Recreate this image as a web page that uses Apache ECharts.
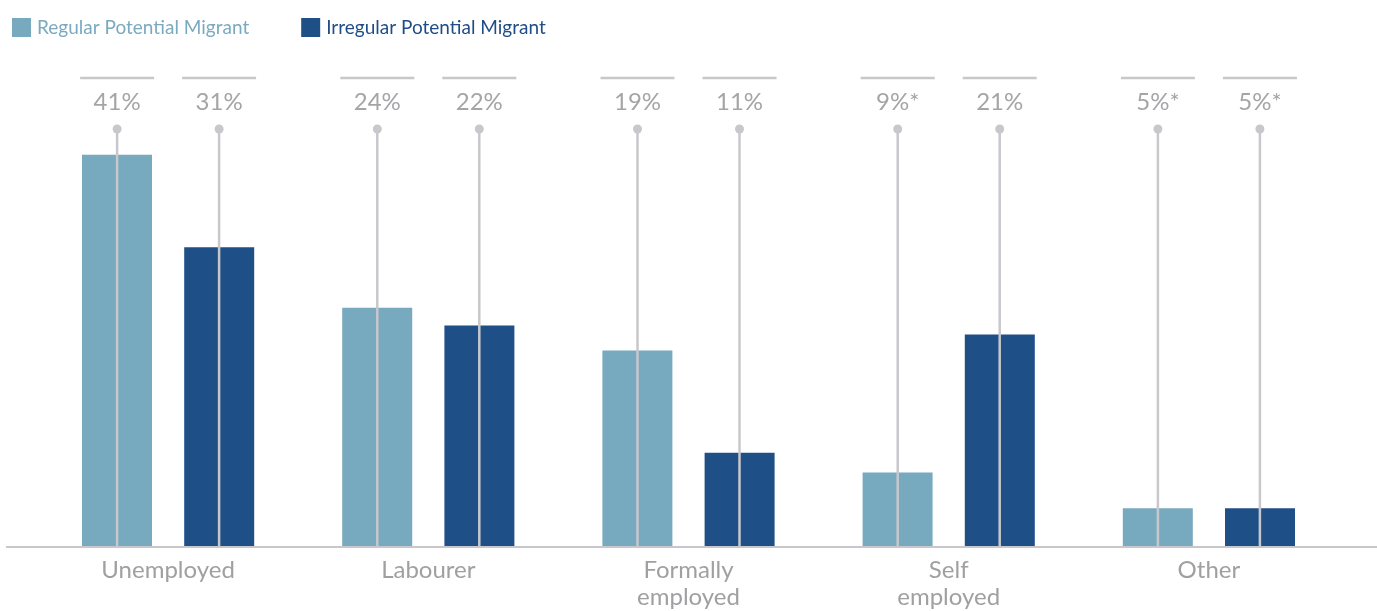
<!DOCTYPE html>
<html>
<head>
<meta charset="utf-8">
<script src="https://cdn.jsdelivr.net/npm/echarts@6/dist/echarts.min.js"></script>
<style>
  html, body { margin: 0; padding: 0; background: #fff; }
  #chart { width: 1377px; height: 611px; }
</style>
</head>
<body>
<div id="chart"></div>
<script>
// categories along the x axis
const categories = ['Unemployed', 'Labourer', 'Formally\nemployed', 'Self\nemployed', 'Other']
// bar heights as drawn in the picture
const regularValues = [39.4, 24.0, 19.7, 7.4, 3.8]
const irregularValues = [30.1, 22.2, 9.4, 21.3, 3.8]
// printed labels above each bar
const regularLabels = ['41%', '24%', '19%', '9%*', '5%*']
const irregularLabels = ['31%', '22%', '11%', '21%', '5%*']
// top of the value scale (where the pins end)
const yMax = 42

const GREY = '#c8c8cc'
const FONT = 'Lato'

// pin with dot, label and a short rule above it
function pin (labels, offset) {
  return function (params, api) {
    const i = api.value(0)
    const base = api.coord([i, 0])
    const top = api.coord([i, api.value(1)])
    const x = base[0] + offset
    return {
      type: 'group',
      children: [
        { type: 'line', shape: { x1: x, y1: top[1], x2: x, y2: base[1] }, style: { stroke: GREY, lineWidth: 2.5 } },
        { type: 'circle', shape: { cx: x, cy: top[1], r: 4.5 }, style: { fill: GREY } },
        { type: 'text', style: { text: labels[params.dataIndex], x: x, y: top[1] - 27, align: 'center', verticalAlign: 'middle', fill: '#a5a5a8', fontSize: 24, fontFamily: FONT } },
        { type: 'line', shape: { x1: x - 37, y1: top[1] - 51, x2: x + 37, y2: top[1] - 51 }, style: { stroke: GREY, lineWidth: 2.5 } }
      ]
    }
  }
}

const pinData = categories.map((c, i) => [i, yMax])

const chart = echarts.init(document.getElementById('chart'))
chart.setOption({
  animation: false,
  legend: {
    left: 7,
    top: 13,
    itemWidth: 19,
    itemHeight: 19,
    itemGap: 52,
    icon: 'rect',
    data: [
      { name: 'Regular Potential Migrant', textStyle: { color: '#7aaabf' } },
      { name: 'Irregular Potential Migrant', textStyle: { color: '#1f4e87' } }
    ],
    textStyle: { fontSize: 19, fontFamily: FONT, padding: [0, 0, 0, 1] }
  },
  grid: { left: 38, right: 38, top: 129, bottom: 64 },
  xAxis: {
    type: 'category',
    data: categories,
    axisLine: { show: false },
    axisTick: { show: false },
    axisLabel: { color: '#a0a0a2', fontSize: 24, fontFamily: FONT, lineHeight: 27, margin: 11 }
  },
  yAxis: {
    type: 'value',
    min: 0,
    max: yMax,
    show: false,
    splitLine: { show: false }
  },
  graphic: [
    { type: 'line', shape: { x1: 6, y1: 547, x2: 1377, y2: 547 }, style: { stroke: GREY, lineWidth: 2 }, z: 1 }
  ],
  series: [
    { name: 'Regular Potential Migrant', type: 'bar', data: regularValues, barWidth: 70, barGap: '46%', itemStyle: { color: '#77a9bf' }, z: 2 },
    { name: 'Irregular Potential Migrant', type: 'bar', data: irregularValues, barWidth: 70, barGap: '46%', itemStyle: { color: '#1f4f87' }, z: 2 },
    { name: 'regularPins', type: 'custom', data: pinData, encode: { x: 0, y: 1 }, renderItem: pin(regularLabels, -51), z: 5, silent: true },
    { name: 'irregularPins', type: 'custom', data: pinData, encode: { x: 0, y: 1 }, renderItem: pin(irregularLabels, 51), z: 5, silent: true }
  ]
})
</script>
</body>
</html>
